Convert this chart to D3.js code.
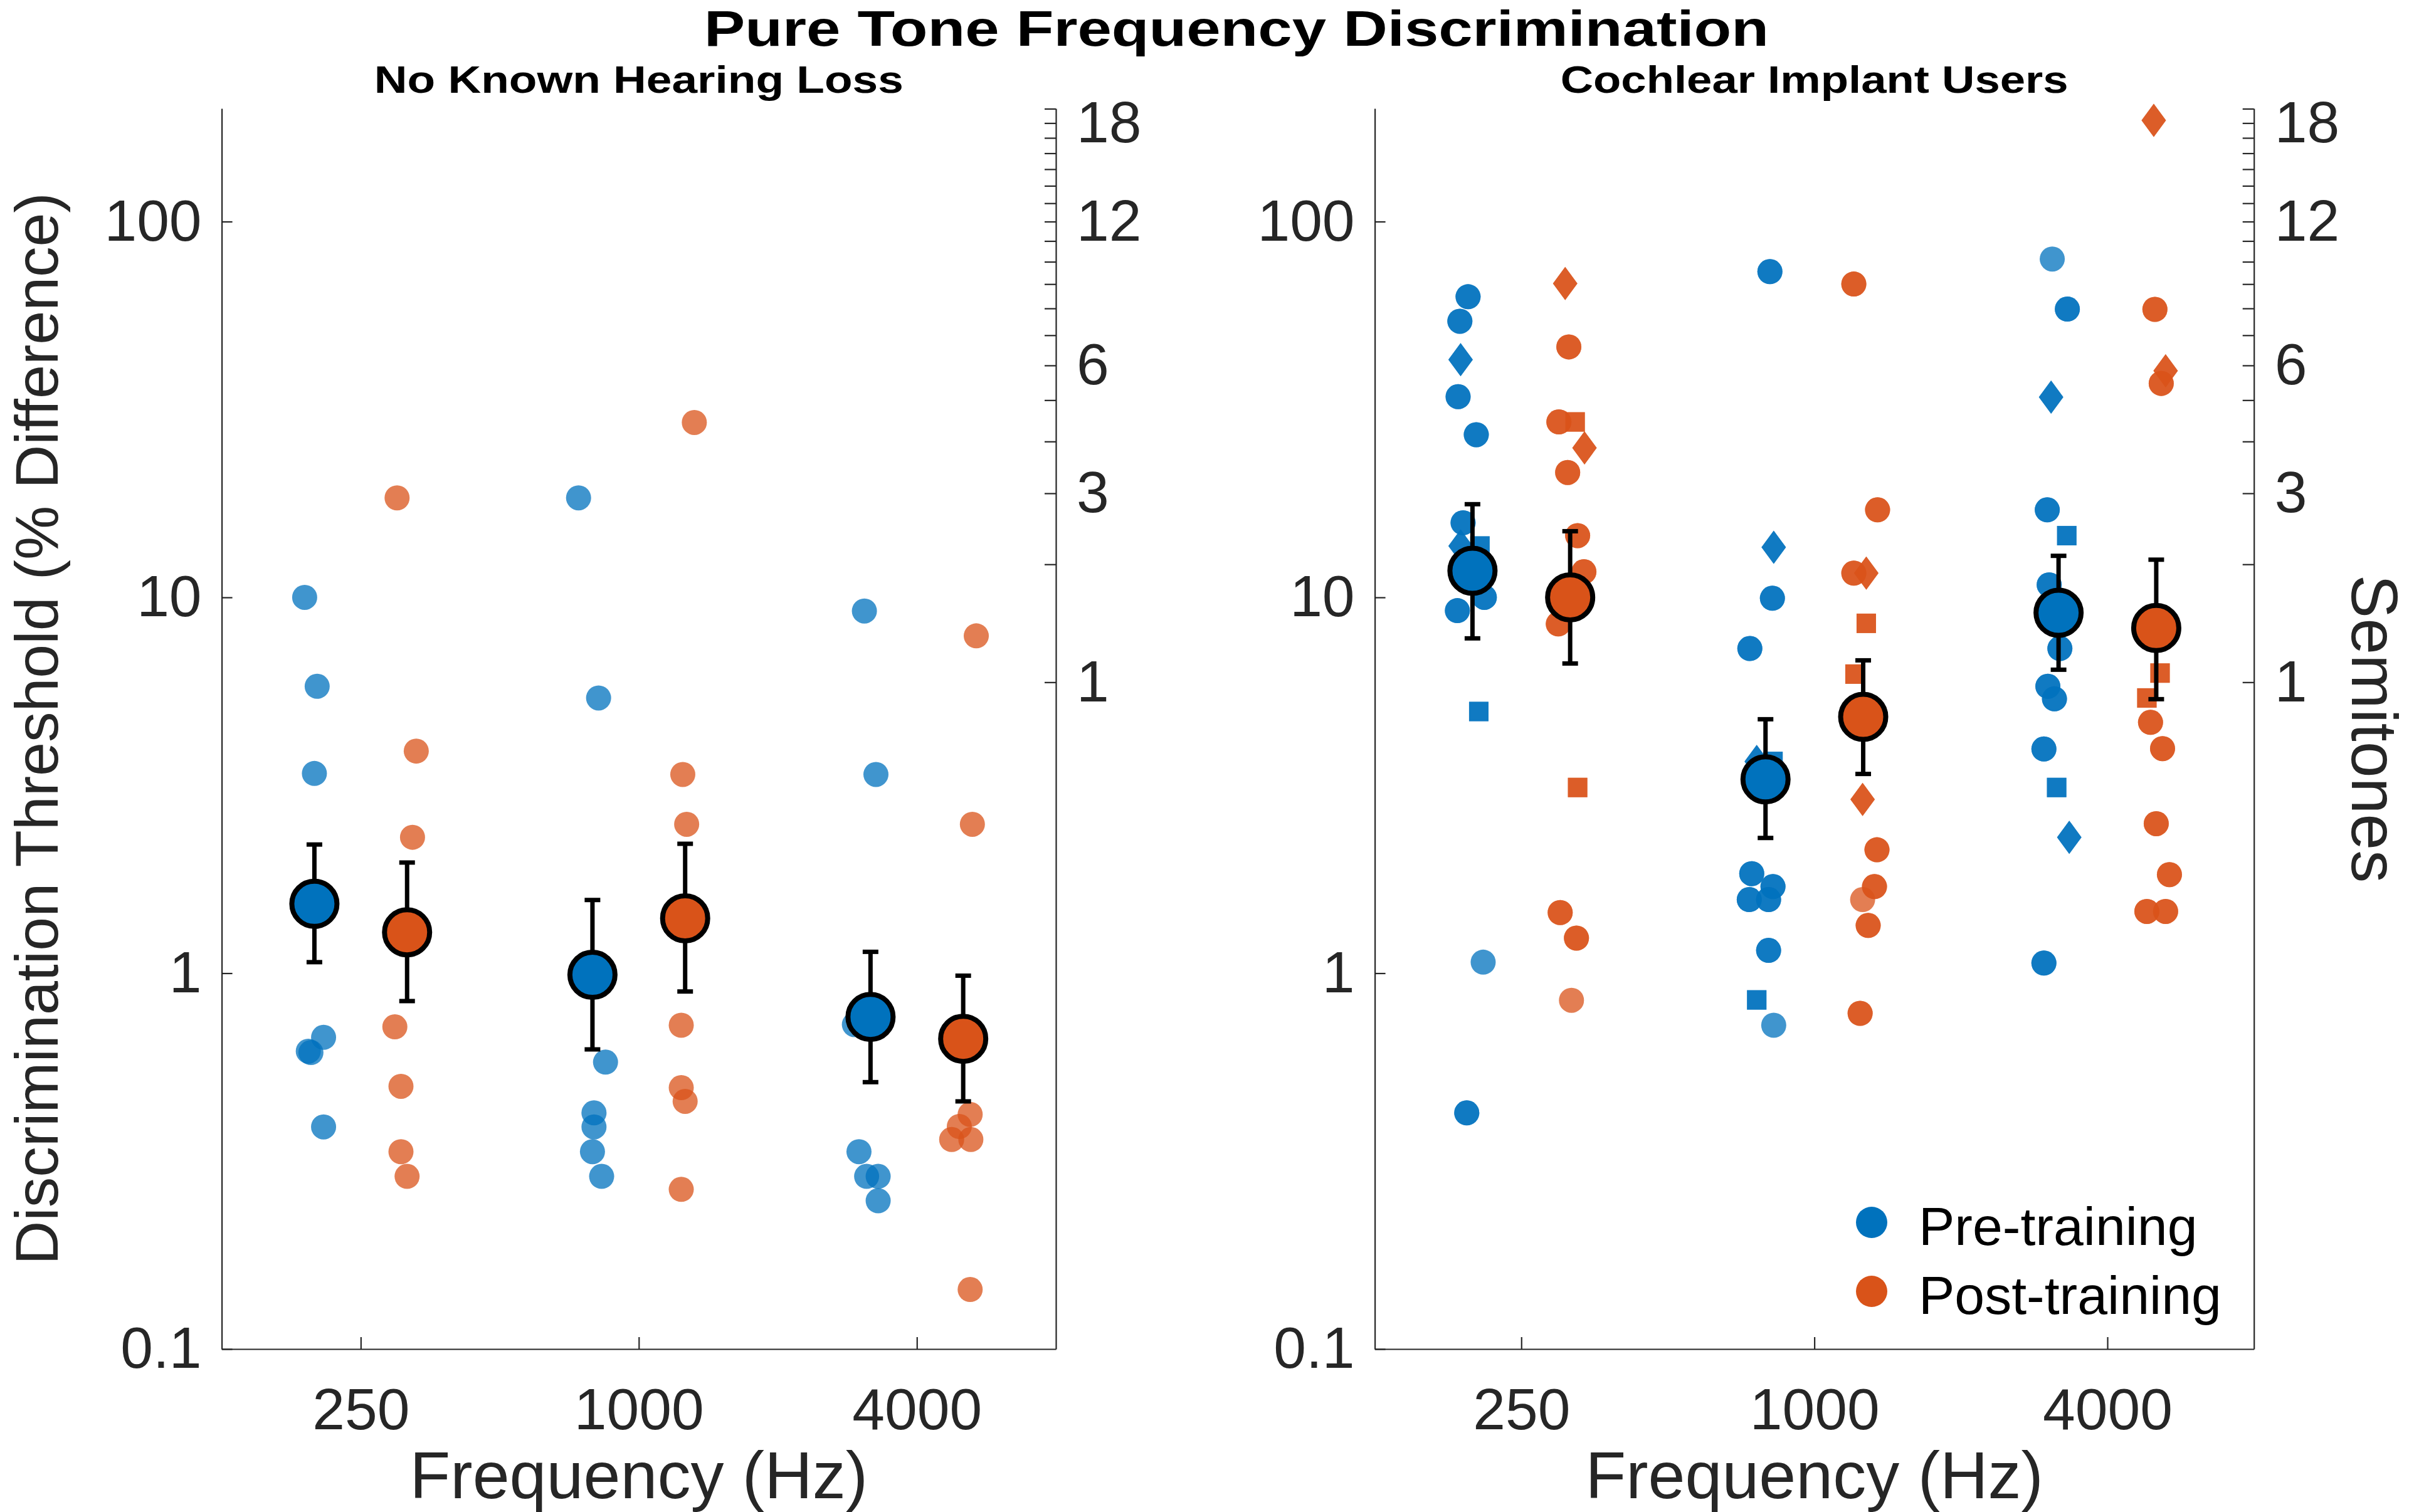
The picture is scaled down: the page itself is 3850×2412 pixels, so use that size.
<!DOCTYPE html>
<html>
<head>
<meta charset="utf-8">
<script src="https://cdn.jsdelivr.net/npm/d3@7"></script>
<style>
html, body { margin: 0; padding: 0; background: #fff; }
svg { display: block; font-family: "Liberation Sans", Arial, Helvetica, sans-serif; }
</style>
</head>
<body>
<svg id="chart" width="3850" height="2412"></svg>
<script>
// ---- data ----
const freqs = [250, 1000, 4000];
const phaseNames = ["Pre-training", "Post-training"];
const yTicks = [0.1, 1, 10, 100];
const semitoneTicks = [1, 2, 3, 4, 5, 6, 7, 8, 9, 10, 11, 12, 13, 14, 15, 16, 17, 18, 19];
const semitoneLabels = [1, 3, 6, 12, 18];

// No known hearing loss: [frequency, threshold (%), jitter (octaves)]
const nhPre = [
    [250, 10.0, -0.07], [250, 5.8, 0.02], [250, 3.4, 0], [250, 0.675, 0.066],
    [250, 0.62, -0.044], [250, 0.615, -0.025], [250, 0.39, 0.066],
    [1000, 18.4, -0.1], [1000, 5.4, 0.044], [1000, 0.58, 0.094], [1000, 0.425, 0.011],
    [1000, 0.39, 0.011], [1000, 0.335, 0], [1000, 0.288, 0.066],
    [4000, 9.2, -0.044], [4000, 3.38, 0.039], [4000, 0.73, -0.116], [4000, 0.335, -0.083],
    [4000, 0.288, -0.028], [4000, 0.288, 0.055], [4000, 0.248, 0.055]
];
const nhPost = [
    [250, 18.4, -0.072], [250, 3.9, 0.066], [250, 2.3, 0.039], [250, 0.72, -0.088],
    [250, 0.5, -0.044], [250, 0.335, -0.044], [250, 0.288, 0],
    [1000, 29.2, 0.066], [1000, 3.38, -0.017], [1000, 2.49, 0.011], [1000, 0.727, -0.028],
    [1000, 0.496, -0.028], [1000, 0.456, 0], [1000, 0.266, -0.028],
    [4000, 7.9, 0.094], [4000, 2.49, 0.066], [4000, 0.421, 0.05], [4000, 0.391, -0.028],
    [4000, 0.361, -0.083], [4000, 0.361, 0.055], [4000, 0.144, 0.05]
];
// [frequency, mean, lower, upper]
const nhPreMean = [[250, 1.53, 1.07, 2.20], [1000, 0.99, 0.627, 1.566], [4000, 0.765, 0.513, 1.14]];
const nhPostMean = [[250, 1.285, 0.843, 1.97], [1000, 1.40, 0.894, 2.21], [4000, 0.669, 0.456, 0.985]];

// Cochlear implant users: [frequency, threshold (%), jitter (octaves), marker, overlapping points]
const ciPre = [
    [250, 63.1, -0.03, "o", 2], [250, 54.3, -0.086, "o", 2], [250, 42.9, -0.081, "d", 2],
    [250, 34.2, -0.098, "o", 2], [250, 27.1, 0.026, "o", 2], [250, 15.8, -0.064, "o", 2],
    [250, 13.7, -0.081, "d", 2], [250, 13.7, 0.051, "s", 2], [250, 10.0, 0.081, "o", 2],
    [250, 9.22, -0.103, "o", 2], [250, 4.97, 0.043, "s", 2], [250, 1.07, 0.073, "o", 1],
    [250, 0.425, -0.039, "o", 2],
    [1000, 73.6, 0.03, "o", 2], [1000, 13.6, 0.056, "d", 2], [1000, 9.95, 0.047, "o", 2],
    [1000, 7.31, -0.107, "o", 2], [1000, 3.66, -0.06, "d", 2], [1000, 3.66, 0.051, "s", 2],
    [1000, 1.84, -0.094, "o", 2], [1000, 1.70, 0.051, "o", 2], [1000, 1.57, -0.111, "o", 2],
    [1000, 1.57, 0.021, "o", 2], [1000, 1.15, 0.021, "o", 2], [1000, 0.849, -0.06, "s", 2],
    [1000, 0.727, 0.056, "o", 1],
    [4000, 79.5, -0.043, "o", 1], [4000, 58.5, 0.06, "o", 2], [4000, 34.1, -0.051, "d", 2],
    [4000, 17.1, -0.077, "o", 2], [4000, 14.6, 0.056, "s", 2], [4000, 10.8, -0.064, "o", 2],
    [4000, 7.31, 0.009, "o", 2], [4000, 5.80, -0.073, "o", 2], [4000, 5.37, -0.028, "o", 2],
    [4000, 3.95, -0.1, "o", 2], [4000, 3.12, -0.013, "s", 2], [4000, 2.30, 0.073, "d", 2],
    [4000, 1.064, -0.1, "o", 2]
];
const ciPost = [
    [250, 68.4, -0.034, "d", 2], [250, 46.4, -0.009, "o", 2], [250, 29.3, 0.034, "s", 2],
    [250, 29.3, -0.077, "o", 2], [250, 25.0, 0.098, "d", 2], [250, 21.5, -0.017, "o", 2],
    [250, 14.6, 0.051, "o", 2], [250, 11.7, 0.094, "o", 2], [250, 8.5, -0.081, "o", 2],
    [250, 3.12, 0.051, "s", 2], [250, 1.45, -0.068, "o", 2], [250, 1.24, 0.043, "o", 2],
    [250, 0.847, 0.009, "o", 1],
    [1000, 68.2, -0.064, "o", 2], [1000, 17.1, 0.098, "o", 2], [1000, 11.6, -0.064, "o", 2],
    [1000, 11.6, 0.021, "d", 2], [1000, 8.53, 0.021, "s", 2], [1000, 6.25, -0.056, "s", 2],
    [1000, 2.90, -0.004, "d", 2], [1000, 2.13, 0.094, "o", 2], [1000, 1.70, 0.077, "o", 2],
    [1000, 1.57, -0.004, "o", 1], [1000, 1.34, 0.034, "o", 2], [1000, 0.782, -0.021, "o", 2],
    [4000, 186, -0.017, "d", 2], [4000, 58.4, -0.009, "o", 2], [4000, 40.1, 0.064, "d", 2],
    [4000, 37.1, 0.034, "o", 2], [4000, 6.29, 0.026, "s", 2], [4000, 5.40, -0.064, "s", 2],
    [4000, 4.65, -0.039, "o", 2], [4000, 3.96, 0.043, "o", 2], [4000, 2.50, 0, "o", 2],
    [4000, 1.83, 0.09, "o", 2], [4000, 1.46, -0.064, "o", 2], [4000, 1.46, 0.064, "o", 2]
];
const ciPreMean = [[250, 11.77, 7.78, 17.7], [1000, 3.28, 2.29, 4.74], [4000, 9.1, 6.42, 12.9]];
const ciPostMean = [[250, 10.0, 6.67, 15.0], [1000, 4.81, 3.39, 6.8], [4000, 8.29, 5.36, 12.6]];

// ---- layout ----
const colors = ["#0072BD", "#D95319"];
const phaseShift = [Math.pow(2, -1 / 3), Math.pow(2, 1 / 3)];
const axisColor = "#262626";
const plotTop = 173, plotBottom = 2152;

const svg = d3.select("#chart");

const y = d3.scaleLog().domain([0.1, 200]).range([plotBottom, plotTop]);
const semitoneToPct = s => (Math.pow(2, s / 12) - 1) * 100;

const panels = [
    { title: "No Known Hearing Loss", x0: 353.6, x1: 1684, titleW: 844,
      pre: nhPre, post: nhPost, preMean: nhPreMean, postMean: nhPostMean, ylabel: true },
    { title: "Cochlear Implant Users", x0: 2192.6, x1: 3594.7, titleW: 810,
      pre: ciPre, post: ciPost, preMean: ciPreMean, postMean: ciPostMean, legend: true, ylabel2: true }
];

function markerPath(shape, cx, cy) {
    if (shape === "s") {
        const h = 15.5;
        return `M${cx - h},${cy - h}H${cx + h}V${cy + h}H${cx - h}Z`;
    }
    if (shape === "d") {
        return `M${cx},${cy - 26.5}L${cx + 19.5},${cy}L${cx},${cy + 26.5}L${cx - 19.5},${cy}Z`;
    }
    const r = 20;
    return `M${cx - r},${cy}a${r},${r} 0 1,0 ${2 * r},0a${r},${r} 0 1,0 ${-2 * r},0Z`;
}

function styleAxis(g, size) {
    g.select(".domain").attr("stroke", axisColor).attr("stroke-width", 2.2);
    g.selectAll(".tick line").attr("stroke", axisColor).attr("stroke-width", 2.2);
    g.selectAll(".tick text")
        .attr("fill", axisColor)
        .attr("font-size", size)
        .attr("font-family", "'Liberation Sans', Arial, sans-serif");
}

panels.forEach(p => {
    const x = d3.scaleLog().base(2).domain([125, 8000]).range([p.x0, p.x1]);
    const g = svg.append("g");

    // axes
    const gx = g.append("g").attr("transform", `translate(0,${plotBottom})`)
        .call(d3.axisBottom(x).tickValues(freqs).tickSize(-19).tickSizeOuter(0)
            .tickPadding(62).tickFormat(d => d));
    styleAxis(gx, 93);

    const gy = g.append("g").attr("transform", `translate(${p.x0},0)`)
        .call(d3.axisLeft(y).tickValues(yTicks).tickSize(-17).tickSizeOuter(0)
            .tickPadding(32).tickFormat(d => String(d)));
    styleAxis(gy, 93);

    const gr = g.append("g").attr("transform", `translate(${p.x1},0)`)
        .call(d3.axisRight(y).tickValues(semitoneTicks.map(semitoneToPct))
            .tickSize(-18).tickSizeOuter(0).tickPadding(33)
            .tickFormat((d, i) => semitoneLabels.includes(semitoneTicks[i]) ? semitoneTicks[i] : ""));
    styleAxis(gr, 93);

    // individual points
    [p.pre, p.post].forEach((rows, k) => {
        const layers = [];
        rows.forEach(r => {
            const n = r[4] || 1;
            for (let i = 0; i < n; i++) layers.push(r);
        });
        g.append("g").selectAll("path")
            .data(layers)
            .join("path")
            .attr("d", r => markerPath(r[3] || "o",
                x(r[0] * phaseShift[k] * Math.pow(2, r[2])), y(r[1])))
            .attr("fill", colors[k])
            .attr("fill-opacity", 0.75);
    });

    // error bars then means
    [p.preMean, p.postMean].forEach((rows, k) => {
        const eb = g.append("g").attr("stroke", "#000").attr("stroke-width", 7);
        rows.forEach(r => {
            const cx = x(r[0] * phaseShift[k]);
            eb.append("line").attr("x1", cx).attr("x2", cx).attr("y1", y(r[2])).attr("y2", y(r[3]));
            [r[2], r[3]].forEach(v => {
                eb.append("line").attr("x1", cx - 12.5).attr("x2", cx + 12.5)
                    .attr("y1", y(v)).attr("y2", y(v));
            });
        });
    });
    [p.preMean, p.postMean].forEach((rows, k) => {
        g.append("g").selectAll("circle")
            .data(rows)
            .join("circle")
            .attr("cx", r => x(r[0] * phaseShift[k]))
            .attr("cy", r => y(r[1]))
            .attr("r", 36)
            .attr("fill", colors[k])
            .attr("stroke", "#000")
            .attr("stroke-width", 8);
    });

    // panel title
    g.append("text")
        .attr("x", (p.x0 + p.x1) / 2)
        .attr("y", 148)
        .attr("text-anchor", "middle")
        .attr("font-size", 61)
        .attr("font-weight", "bold")
        .attr("textLength", p.titleW)
        .attr("lengthAdjust", "spacingAndGlyphs")
        .text(p.title);

    // x label
    g.append("text")
        .attr("x", (p.x0 + p.x1) / 2)
        .attr("y", 2390)
        .attr("text-anchor", "middle")
        .attr("font-size", 106)
        .attr("fill", axisColor)
        .text("Frequency (Hz)");

    if (p.ylabel) {
        g.append("text")
            .attr("transform", `translate(92,${(plotTop + plotBottom) / 2}) rotate(-90)`)
            .attr("text-anchor", "middle")
            .attr("font-size", 97)
            .attr("fill", axisColor)
            .text("Discrimination Threshold (% Difference)");
    }
    if (p.ylabel2) {
        g.append("text")
            .attr("transform", `translate(3751,${(plotTop + plotBottom) / 2}) rotate(90)`)
            .attr("text-anchor", "middle")
            .attr("font-size", 104)
            .attr("fill", axisColor)
            .text("Semitones");
    }

    if (p.legend) {
        const lg = g.append("g").attr("transform", "translate(2985,1950)");
        phaseNames.forEach((name, k) => {
            const row = lg.append("g").attr("transform", `translate(0,${k * 110})`);
            row.append("circle").attr("r", 25).attr("fill", colors[k]);
            row.append("text")
                .attr("x", 75)
                .attr("y", 36)
                .attr("font-size", 86)
                .attr("fill", "#000")
                .text(name);
        });
    }
});

// figure title
svg.append("text")
    .attr("x", 1972)
    .attr("y", 73)
    .attr("text-anchor", "middle")
    .attr("font-size", 79)
    .attr("font-weight", "bold")
    .attr("textLength", 1698)
    .attr("lengthAdjust", "spacingAndGlyphs")
    .text("Pure Tone Frequency Discrimination");
</script>
</body>
</html>
